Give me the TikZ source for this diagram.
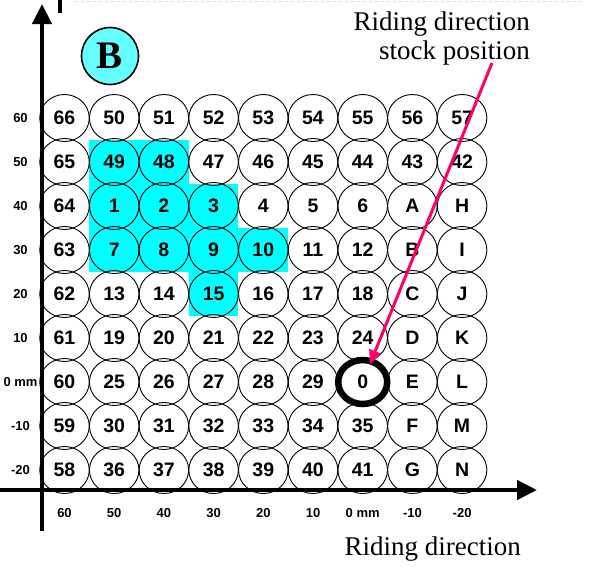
\documentclass[tikz,border=0pt]{standalone}
\usepackage{fontspec}
\setmainfont{Liberation Serif}
\setsansfont{Liberation Sans}
\usepackage{tikz}
\usetikzlibrary{calc,arrows.meta,shapes.geometric}

\definecolor{fillcyan}{RGB}{0,255,255}
\definecolor{platecyan}{RGB}{102,255,255}
\definecolor{pointerpink}{RGB}{255,0,102}

\begin{document}
\begin{tikzpicture}[x=1pt, y=-1pt,
    cell/.style={ellipse, draw, line width=0.9pt, minimum width=49.5pt, minimum height=47pt,
      inner sep=0pt, font=\fontsize{19.5}{20}\selectfont\sffamily\bfseries},
    tic/.style={inner sep=0pt, font=\fontsize{13}{14}\selectfont\sffamily\bfseries},
    axis/.style={line width=4.5pt, -{Triangle[length=20pt, width=19pt]}},
    caption/.style={inner sep=0pt, align=right, font=\fontsize{27}{29}\selectfont}]
    \useasboundingbox (0,0) rectangle (592,566);

    % leftover marks at the top edge
    \draw[gray!30, dashed, line width=1pt] (75,1) -- (585,1);
    \draw[line width=4.5pt] (60,0) -- (60,13);

    % shaded cells
    \foreach \r/\c in {1/1,1/2,2/1,2/2,2/3,3/1,3/2,3/3,3/4,4/3}
      \fill[fillcyan] ({64.5+49.7*\c-24.85}, {118+44*\r-22}) rectangle ++(49.7,44);

    % stock positions
    \foreach \row [count=\r from 0] in {
        {66,50,51,52,53,54,55,56,57},
        {65,49,48,47,46,45,44,43,42},
        {64,1,2,3,4,5,6,A,H},
        {63,7,8,9,10,11,12,B,I},
        {62,13,14,15,16,17,18,C,J},
        {61,19,20,21,22,23,24,D,K},
        {60,25,26,27,28,29,0,E,L},
        {59,30,31,32,33,34,35,F,M},
        {58,36,37,38,39,40,41,G,N}}
      \foreach \lbl [count=\c from 0] in \row
        \node[cell] (c-\r-\c) at ({64.5+49.7*\c}, {118+44*\r}) {\lbl};

    % axes
    \draw[axis] (0,490) -- (537,490);
    \draw[axis] (42,531) -- (42,4);

    % xtics and ytics
    \foreach \v [count=\i from 0] in {60,50,40,30,20,10,0 mm,-10,-20} {
      \node[tic] (l-\i) at (20.5, {118+44*\i}) {\v};
      \node[tic] (b-\i) at ({64.5+49.7*\i}, 513) {\v};
    }

    % plate label
    \node[circle, draw, line width=1.6pt, fill=platecyan, minimum size=57pt, inner sep=0pt,
      font=\fontsize{39}{40}\selectfont\bfseries] (plate) at (110,56) {B};

    % current position
    \draw[line width=6.5pt] (c-6-6.center) ellipse[x radius=24.5, y radius=22];

    % captions
    \node[caption, anchor=north east] (stock) at (530,12) {Riding direction\\stock position};
    \node[caption, anchor=base east] (ride) at (521,555) {Riding direction};

    \coordinate (tail) at (492,63);
    \draw[pointerpink, line width=3pt, -{Triangle[length=14pt, width=12pt]}, shorten >=-5pt]
      (tail) -- (c-6-6);
\end{tikzpicture}
\end{document}
